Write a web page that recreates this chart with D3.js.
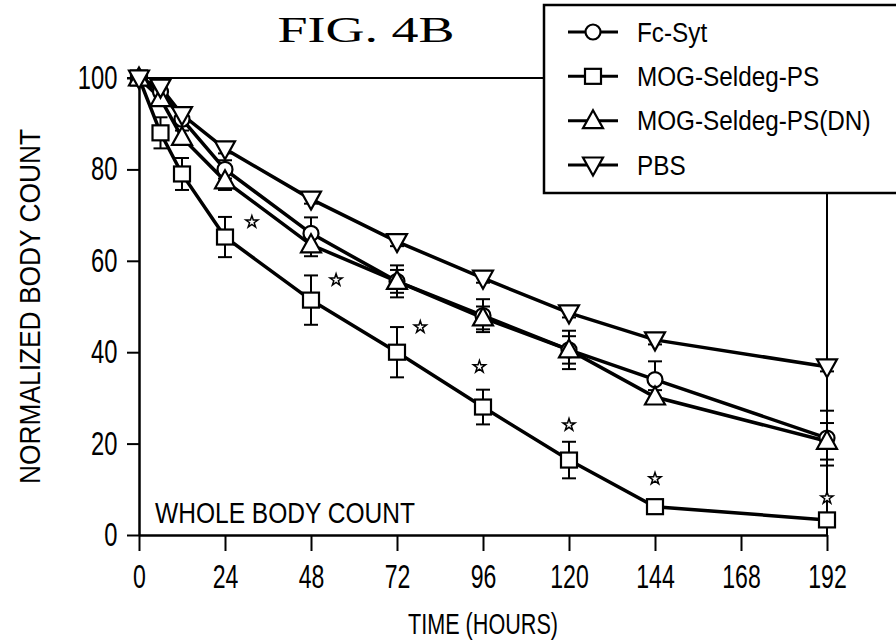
<!DOCTYPE html>
<html>
<head>
<meta charset="utf-8">
<script src="https://cdn.jsdelivr.net/npm/d3@7"></script>
<style>
  body { margin: 0; background: #fff; }
  text { font-family: "Liberation Sans", Arial, sans-serif; fill: #000; }
</style>
</head>
<body>
<div id="chart"></div>
<script>
// data
var hours = [0, 6, 12, 24, 48, 72, 96, 120, 144, 192];
var xTicks = [0, 24, 48, 72, 96, 120, 144, 168, 192];
var yTicks = [0, 20, 40, 60, 80, 100];

var fcSyt   = [100, 97, 91, 80, 66, 55.5, 48, 40.5, 34, 21.2];
var mogPS   = [100, 88, 79, 65.2, 51.4, 40, 28, 16.4, 6.2, 3.3];
var mogDN   = [100, 95.5, 87, 77.5, 63.5, 55.5, 47.5, 40.5, 30.2, 20.5];
var pbs     = [100, 98, 92, 84.5, 73.5, 64.2, 56.2, 48.6, 42.7, 36.8];

var fcErr   = [0, 1, 1.5, 2, 3.5, 3.5, 3.6, 4.2, 4, 6];
var mogErr  = [0, 3.4, 3.5, 4.4, 5.4, 5.5, 3.8, 4, 0.8, 0.8];
var dnErr   = [0, 1, 1.5, 2, 2.5, 2.5, 2.5, 3, 1.5, 4];
var pbsErr  = [0, 0.5, 0.5, 1, 1, 1, 1, 1, 1, 1];

// significance stars [hour, value]
var stars = [[31.5, 68.5], [55, 55.8], [78.5, 45.5], [95, 36.8], [120, 24.1], [144, 12.3], [192, 8.1]];

var seriesNames = ["Fc-Syt", "MOG-Seldeg-PS", "MOG-Seldeg-PS(DN)", "PBS"];

var series = [
  { name: seriesNames[0], vals: fcSyt, err: fcErr, shape: "circle" },
  { name: seriesNames[1], vals: mogPS, err: mogErr, shape: "square" },
  { name: seriesNames[2], vals: mogDN, err: dnErr, shape: "up" },
  { name: seriesNames[3], vals: pbs, err: pbsErr, shape: "down" }
];

var width = 896, height = 641;

var svg = d3.select("#chart").append("svg")
  .attr("width", width)
  .attr("height", height);

var x = d3.scaleLinear().domain([0, 192]).range([139, 827]);
var y = d3.scaleLinear().domain([0, 100]).range([535, 78]);

// title
svg.append("text")
  .attr("x", 366).attr("y", 42)
  .attr("text-anchor", "middle")
  .attr("textLength", 177)
  .attr("lengthAdjust", "spacingAndGlyphs")
  .style("font-family", "'Liberation Serif', 'Times New Roman', serif")
  .style("font-size", "36px")
  .text("FIG. 4B");

// frame top and right
svg.append("line")
  .attr("x1", x(0) - 12).attr("x2", x(192))
  .attr("y1", y(100)).attr("y2", y(100))
  .attr("stroke", "#000").attr("stroke-width", 2);
svg.append("line")
  .attr("x1", x(192)).attr("x2", x(192))
  .attr("y1", y(100)).attr("y2", y(0))
  .attr("stroke", "#000").attr("stroke-width", 2);

// axes
var xAxis = svg.append("g")
  .attr("transform", "translate(0," + y(0) + ")")
  .call(d3.axisBottom(x).tickValues(xTicks).tickSize(16).tickSizeOuter(0).tickPadding(14));
var yAxis = svg.append("g")
  .attr("transform", "translate(" + x(0) + ",0)")
  .call(d3.axisLeft(y).tickValues(yTicks).tickSize(12).tickSizeOuter(0).tickPadding(8));

[xAxis, yAxis].forEach(function(g) {
  g.select(".domain").attr("stroke", "#000").attr("stroke-width", 2.5);
  g.selectAll(".tick line").attr("stroke", "#000").attr("stroke-width", 2);
  g.selectAll(".tick text")
    .style("font-size", "33px")
    .style("font-family", "'Liberation Sans', Arial, sans-serif");
});
xAxis.selectAll(".tick text").attr("transform", "scale(0.7,1)");
yAxis.selectAll(".tick text").attr("transform", "scale(0.72,1)").attr("x", -30);

// axis titles
svg.append("text")
  .attr("transform", "translate(40," + ((y(0) + y(100)) / 2) + ") rotate(-90)")
  .attr("text-anchor", "middle")
  .attr("textLength", 355)
  .attr("lengthAdjust", "spacingAndGlyphs")
  .style("font-size", "30px")
  .text("NORMALIZED BODY COUNT");

svg.append("text")
  .attr("x", (x(0) + x(192)) / 2).attr("y", 634)
  .attr("text-anchor", "middle")
  .attr("textLength", 150)
  .attr("lengthAdjust", "spacingAndGlyphs")
  .style("font-size", "30px")
  .text("TIME (HOURS)");

svg.append("text")
  .attr("x", 155).attr("y", 523)
  .attr("textLength", 260)
  .attr("lengthAdjust", "spacingAndGlyphs")
  .style("font-size", "29px")
  .text("WHOLE BODY COUNT");

function drawMarker(g, shape) {
  if (shape === "circle") {
    g.append("circle").attr("r", 7.5);
  } else if (shape === "square") {
    g.append("rect").attr("x", -8).attr("y", -7.5).attr("width", 16).attr("height", 15);
  } else if (shape === "up") {
    g.append("path").attr("d", "M0,-10.5L10,7.5L-10,7.5Z");
  } else {
    g.append("path").attr("d", "M0,10.5L10,-7.5L-10,-7.5Z");
  }
  g.selectAll("*").attr("fill", "#fff").attr("stroke", "#000").attr("stroke-width", 2.2);
}

var line = d3.line()
  .x(function(d, i) { return x(hours[i]); })
  .y(function(d) { return y(d); });

// lines
series.forEach(function(s) {
  svg.append("path")
    .datum(s.vals)
    .attr("d", line)
    .attr("fill", "none")
    .attr("stroke", "#000")
    .attr("stroke-width", 3.5);
});

// error bars
series.forEach(function(s) {
  var eb = svg.append("g");
  s.vals.forEach(function(v, i) {
    if (s.err[i] <= 0) return;
    var cx = x(hours[i]);
    var top = y(v + s.err[i]), bot = y(v - s.err[i]);
    eb.append("line").attr("x1", cx).attr("x2", cx).attr("y1", top).attr("y2", bot);
    eb.append("line").attr("x1", cx - 7).attr("x2", cx + 7).attr("y1", top).attr("y2", top);
    eb.append("line").attr("x1", cx - 7).attr("x2", cx + 7).attr("y1", bot).attr("y2", bot);
  });
  eb.selectAll("line").attr("stroke", "#000").attr("stroke-width", 2);
});

// markers
series.forEach(function(s) {
  s.vals.forEach(function(v, i) {
    var g = svg.append("g").attr("transform", "translate(" + x(hours[i]) + "," + y(v) + ")");
    drawMarker(g, s.shape);
  });
});

// stars
svg.selectAll(".star")
  .data(stars)
  .enter()
  .append("path")
    .attr("class", "star")
    .attr("transform", function(d) { return "translate(" + x(d[0]) + "," + y(d[1]) + ")"; })
    .attr("d", d3.symbol().type(d3.symbolStar).size(45))
    .attr("fill", "#fff")
    .attr("stroke", "#000")
    .attr("stroke-width", 1.5);

// legend
var legend = svg.append("g");
legend.append("rect")
  .attr("x", 544).attr("y", 5)
  .attr("width", 380).attr("height", 188)
  .attr("fill", "#fff")
  .attr("stroke", "#000")
  .attr("stroke-width", 2.5);

var legendY = d3.scalePoint().domain(seriesNames).range([32, 165]);

series.forEach(function(s) {
  var ly = legendY(s.name);
  legend.append("line")
    .attr("x1", 568).attr("x2", 618)
    .attr("y1", ly).attr("y2", ly)
    .attr("stroke", "#000").attr("stroke-width", 3);
  var g = legend.append("g").attr("transform", "translate(593," + ly + ")");
  drawMarker(g, s.shape);
  legend.append("text")
    .attr("x", 637).attr("y", ly)
    .attr("dy", "0.36em")
    .attr("transform", "translate(637," + ly + ") scale(0.9,1) translate(-637," + (-ly) + ")")
    .style("font-size", "27px")
    .text(s.name);
});
</script>
</body>
</html>
